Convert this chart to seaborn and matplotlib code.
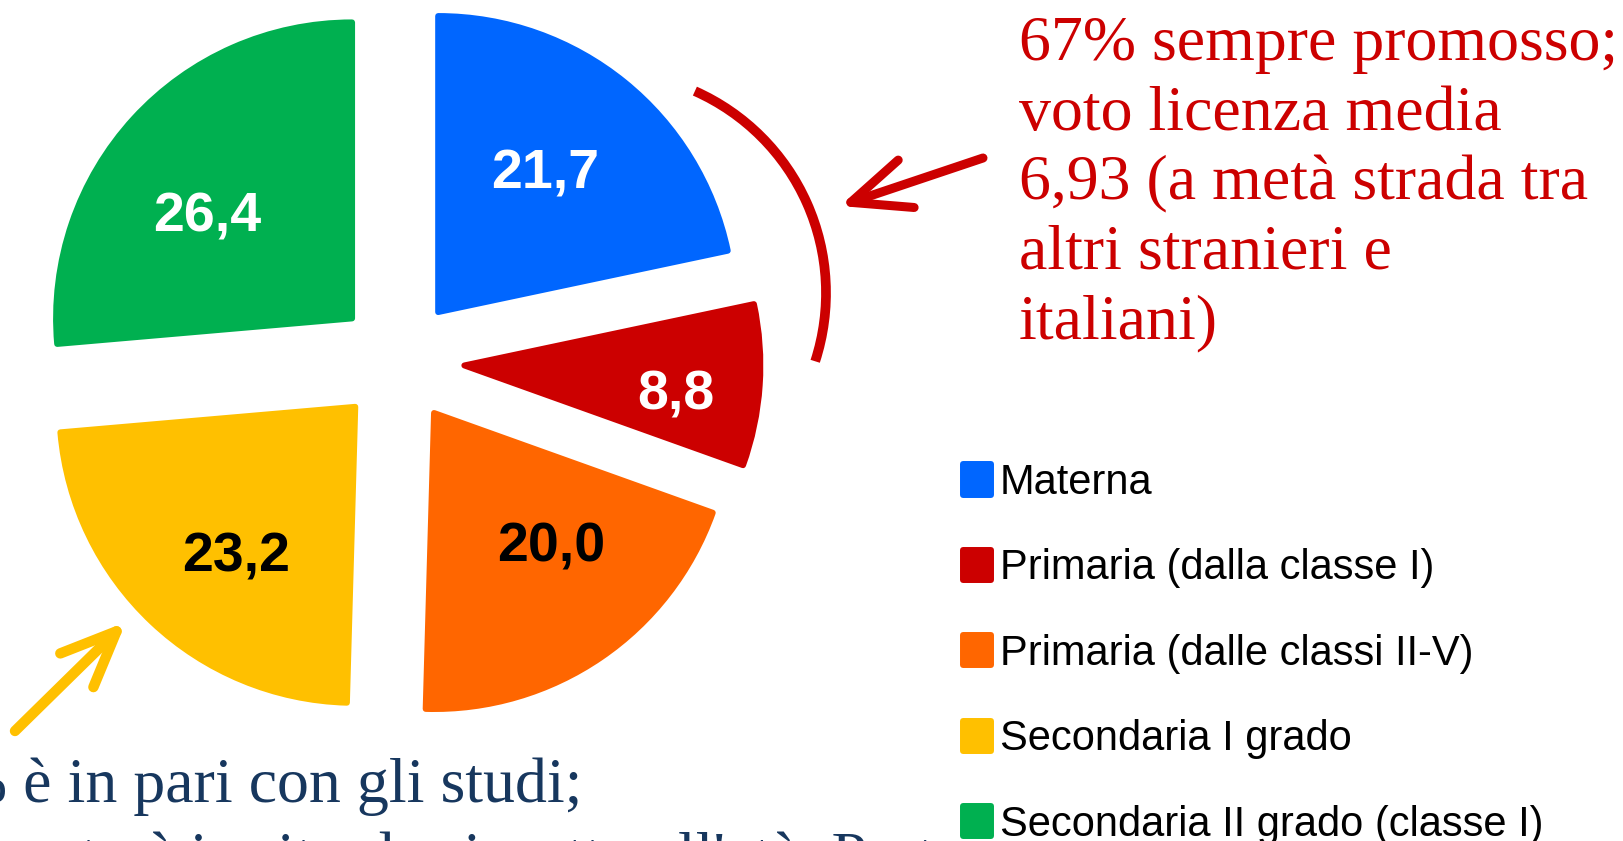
import numpy as np
import matplotlib
matplotlib.use("Agg")
import matplotlib.pyplot as plt
from matplotlib.patches import Arc
import seaborn as sns

# data
categories = ["Materna", "Primaria (dalla classe I)", "Primaria (dalle classi II-V)",
              "Secondaria I grado", "Secondaria II grado (classe I)"]
values = [21.7, 8.8, 20.0, 23.2, 26.4]
value_labels = ["21,7", "8,8", "20,0", "23,2", "26,4"]
colors = ["#0066FF", "#CC0000", "#FF6600", "#FFC000", "#00B050"]
label_colors = ["white", "white", "black", "black", "white"]

red_note = ["67% sempre promosso;", "voto licenza media", "6,93 (a metà strada tra",
            "altri stranieri e", "italiani)"]
blue_note = ["% è in pari con gli studi;", "il resto è in ritardo rispetto all'età. Part"]

sns.set_theme(style="white")
plt.rcParams["font.family"] = ["Liberation Sans", "DejaVu Sans"]
palette = sns.color_palette(colors)

W, H = 1623, 841
fig = plt.figure(figsize=(W / 100, H / 100), dpi=100)
ax = fig.add_axes([0, 0, 1, 1])

R = 296
center = (398.5, 480)
# explode offsets are in data units (pixels here)
explode = [63, 66, 63, 63, 63]
wedges, _ = ax.pie(values, colors=palette, startangle=90, counterclock=False,
                   explode=explode, radius=R, center=center,
                   wedgeprops=dict(linewidth=4.3, joinstyle="round"))
for w in wedges:
    w.set_edgecolor(w.get_facecolor())

# value labels inside slices: radial distance (fraction of r) and angle shift from bisector
label_dist = [0.590, 0.723, 0.603, 0.650, 0.598]
label_shift = [1.2, -4.2, 6.8, 4.9, 7.7]
for w, txt, c, d, s in zip(wedges, value_labels, label_colors, label_dist, label_shift):
    th = np.deg2rad((w.theta1 + w.theta2) / 2 + s)
    cx, cy = w.center
    ax.text(cx + d * w.r * np.cos(th), cy + d * w.r * np.sin(th), txt,
            ha="center", va="center", fontsize=40, fontweight="bold", color=c)

ax.set_xlim(0, W)
ax.set_ylim(0, H)
ax.set_aspect("auto")
ax.axis("off")

# red bracket + arrow
ax.add_patch(Arc((605, 548), 442, 442, theta1=-18, theta2=66, lw=7, color="#CC0000"))
ax.annotate("", xy=(840, 635), xytext=(983, 683),
            arrowprops=dict(arrowstyle="->,head_length=2.1,head_width=0.9",
                            mutation_scale=20, lw=6.5, color="#CC0000",
                            shrinkA=0, shrinkB=0, capstyle="round", joinstyle="round"))
# yellow arrow
ax.annotate("", xy=(126, 219), xytext=(15, 110),
            arrowprops=dict(arrowstyle="->,head_length=2.0,head_width=0.85",
                            mutation_scale=20, lw=7.5, color="#FFC000",
                            shrinkA=0, shrinkB=0, capstyle="round", joinstyle="round"))

serif = ["Liberation Serif", "DejaVu Serif"]
for i, line in enumerate(red_note):
    ax.text(1019, H - (60 + 69.5 * i), line, ha="left", va="baseline",
            fontsize=46, color="#CC0000", family=serif)
for i, line in enumerate(blue_note):
    ax.text(-46, H - (802 + 74 * i), line, ha="left", va="baseline",
            fontsize=46, color="#17375E", family=serif)

leg = ax.legend(wedges, categories, loc="upper left",
                bbox_to_anchor=(963 / W, 1 - 463 / H), bbox_transform=fig.transFigure,
                frameon=False, fontsize=30, borderpad=0, borderaxespad=0,
                handlelength=0.67, handleheight=0.74, handletextpad=0.22,
                labelspacing=1.09, labelcolor="black")
for h, c in zip(leg.legend_handles, palette):
    h.set_facecolor(c)
    h.set_edgecolor(c)
    h.set_linewidth(4.3)
    h.set_joinstyle("round")

fig.savefig("out.png", dpi=100)
